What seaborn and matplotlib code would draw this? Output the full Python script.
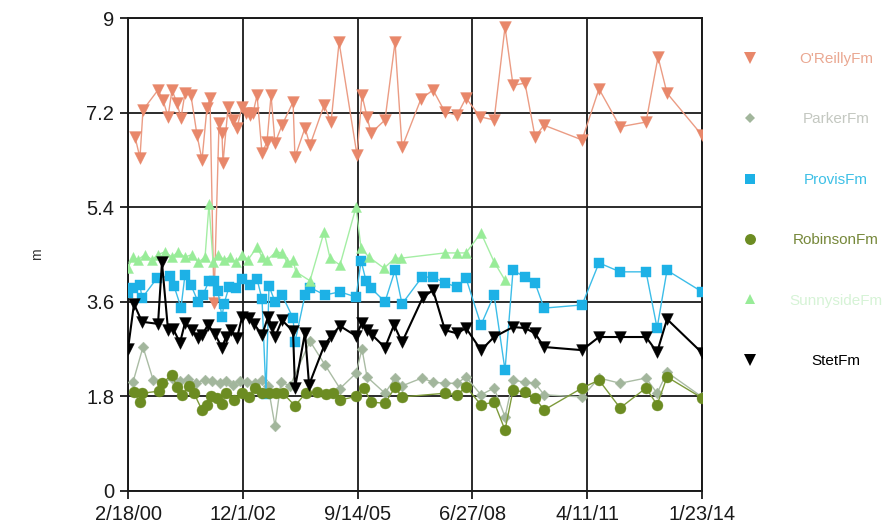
import matplotlib
matplotlib.use("Agg")
import matplotlib.pyplot as plt
import matplotlib.dates as mdates
from matplotlib.lines import Line2D
import numpy as np
import pandas as pd
import seaborn as sns

# ---- survey data: days since first survey (2000-02-18) and depth in m ----
FIRST_SURVEY = "2000-02-18"

oreilly_days = [62, 106, 133, 266, 310, 355, 390, 434, 470, 505, 558, 612, 656, 700, 727,
                762, 807, 833, 842, 887, 931, 966, 1011, 1046, 1082, 1108, 1144, 1188, 1232,
                1268, 1303, 1365, 1463, 1480, 1569, 1613, 1738, 1800, 1871, 2030, 2074, 2119,
                2154, 2278, 2367, 2429, 2597, 2704, 2810, 2917, 2996, 3120, 3245, 3342, 3413,
                3519, 3608, 3688, 4025, 4175, 4362, 4592, 4698, 4778, 5088]
oreilly_m = [6.74, 6.34, 7.25, 7.63, 7.44, 7.12, 7.63, 7.38, 7.10, 7.57, 7.53, 6.77, 6.30, 7.29,
             7.48, 3.58, 7.00, 6.81, 6.24, 7.31, 7.06, 6.91, 7.31, 7.19, 7.15, 7.19, 7.53, 6.43,
             6.64, 7.53, 6.62, 6.96, 7.40, 6.35, 6.91, 6.58, 7.34, 7.02, 8.54, 6.39, 7.53, 7.12,
             6.81, 7.06, 8.54, 6.54, 7.46, 7.63, 7.21, 7.15, 7.48, 7.12, 7.06, 8.83, 7.72, 7.76,
             6.74, 6.96, 6.68, 7.65, 6.93, 7.02, 8.26, 7.57, 6.77]

parker_days = [44, 133, 222, 310, 390, 461, 532, 603, 683, 745, 816, 869, 931, 993, 1055, 1126,
               1188, 1241, 1303, 1356, 1436, 1613, 1746, 1879, 2021, 2074, 2119, 2278, 2367,
               2429, 2606, 2704, 2810, 2917, 2996, 3129, 3245, 3342, 3413, 3519, 3608, 3688,
               4025, 4175, 4362, 4592, 4690, 4778, 5088]
parker_m = [2.07, 2.74, 2.12, 2.05, 2.15, 2.10, 2.13, 2.05, 2.12, 2.10, 2.05, 2.10, 2.02, 2.10,
            2.07, 2.05, 2.12, 2.00, 1.24, 2.07, 2.00, 2.85, 2.40, 1.95, 2.24, 2.70, 2.17, 1.86,
            2.15, 2.00, 2.15, 2.07, 2.05, 2.05, 2.17, 1.83, 1.96, 1.41, 2.11, 2.07, 2.05, 1.83,
            1.79, 2.15, 2.05, 2.15, 1.86, 2.26, 1.79]

provis_days = [0, 44, 106, 124, 257, 372, 408, 470, 505, 558, 621, 665, 718, 762, 798, 833, 851,
               895, 957, 1011, 1082, 1144, 1188, 1223, 1250, 1303, 1365, 1463, 1480, 1569, 1613,
               1746, 1879, 2021, 2066, 2110, 2154, 2278, 2367, 2429, 2606, 2704, 2810, 2917,
               2996, 3129, 3245, 3342, 3413, 3519, 3608, 3688, 4025, 4175, 4362, 4592, 4690,
               4778, 5088]
provis_m = [3.77, 3.86, 3.92, 3.67, 4.05, 4.09, 3.90, 3.49, 4.11, 3.92, 3.60, 3.73, 4.00, 4.00,
            3.80, 3.31, 3.56, 3.88, 3.86, 4.03, 3.92, 4.03, 3.65, 1.85, 3.90, 3.60, 3.73, 3.29,
            2.83, 3.73, 3.87, 3.73, 3.79, 3.69, 4.38, 4.00, 3.86, 3.60, 4.20, 3.56, 4.07, 4.07,
            3.96, 3.88, 4.05, 3.16, 3.73, 2.30, 4.20, 4.07, 3.96, 3.48, 3.54, 4.34, 4.17, 4.17,
            3.10, 4.20, 3.79]

robinson_days = [53, 106, 124, 275, 301, 390, 434, 479, 541, 585, 656, 700, 736, 789, 833, 869,
                 940, 1011, 1073, 1126, 1188, 1250, 1312, 1374, 1480, 1578, 1675, 1755, 1817,
                 1879, 2021, 2092, 2154, 2278, 2367, 2429, 2810, 2917, 2996, 3129, 3245, 3342,
                 3413, 3519, 3608, 3688, 4025, 4175, 4362, 4592, 4690, 4778, 5088]
robinson_m = [1.88, 1.69, 1.86, 1.90, 2.05, 2.21, 1.98, 1.83, 2.00, 1.86, 1.54, 1.64, 1.80, 1.77,
              1.66, 1.86, 1.73, 1.86, 1.79, 1.96, 1.86, 1.87, 1.86, 1.86, 1.62, 1.87, 1.88, 1.84,
              1.86, 1.73, 1.80, 1.96, 1.69, 1.67, 1.97, 1.79, 1.86, 1.83, 1.98, 1.64, 1.69, 1.16,
              1.92, 1.88, 1.77, 1.54, 1.96, 2.11, 1.58, 1.96, 1.64, 2.17, 1.77]

sunnyside_days = [0, 44, 89, 151, 213, 266, 328, 390, 443, 505, 567, 621, 683, 718, 754, 798,
                  851, 904, 957, 1011, 1064, 1144, 1188, 1232, 1312, 1365, 1410, 1463, 1489,
                  1613, 1738, 1791, 1879, 2021, 2066, 2136, 2269, 2367, 2420, 2810, 2917, 2996,
                  3129, 3245, 3342]
sunnyside_m = [4.25, 4.45, 4.40, 4.50, 4.40, 4.50, 4.55, 4.45, 4.55, 4.45, 4.50, 4.35, 4.45,
               5.46, 4.35, 4.50, 4.40, 4.45, 4.35, 4.50, 4.40, 4.64, 4.45, 4.39, 4.55, 4.53,
               4.35, 4.39, 4.17, 4.00, 4.93, 4.43, 4.30, 5.40, 4.62, 4.45, 4.24, 4.43, 4.43,
               4.53, 4.53, 4.53, 4.91, 4.36, 4.01]

stet_days = [0, 53, 124, 266, 301, 355, 399, 461, 505, 567, 621, 656, 709, 771, 833, 869, 913,
             966, 1011, 1073, 1117, 1188, 1241, 1277, 1303, 1365, 1463, 1480, 1569, 1605, 1738,
             1800, 1879, 2021, 2074, 2119, 2163, 2278, 2358, 2429, 2615, 2704, 2810, 2917, 2996,
             3129, 3245, 3413, 3519, 3608, 3688, 4025, 4175, 4362, 4592, 4690, 4778, 5088]
stet_m = [2.70, 3.56, 3.22, 3.18, 4.35, 3.06, 3.09, 2.82, 3.20, 3.06, 2.92, 2.97, 3.16, 2.98,
          2.73, 2.93, 3.06, 2.91, 3.31, 3.30, 3.18, 2.97, 3.31, 3.12, 2.93, 3.25, 3.04, 1.96,
          3.01, 2.02, 2.76, 2.95, 3.14, 2.95, 3.20, 3.06, 2.97, 2.73, 3.16, 2.83, 3.69, 3.82,
          3.06, 3.00, 3.10, 2.68, 2.93, 3.12, 3.10, 3.00, 2.74, 2.68, 2.93, 2.93, 2.93, 2.64,
          3.27, 2.63]

tick_dates = ["2000-02-18", "2002-12-01", "2005-09-14", "2008-06-27", "2011-04-11", "2014-01-23"]
y_ticks = [0, 1.8, 3.6, 5.4, 7.2, 9]
y_tick_labels = ["0", "1.8", "3.6", "5.4", "7.2", "9"]

# ---- styling ----
sns.set_theme(style="white")
plt.rcParams["font.family"] = ["Liberation Sans", "DejaVu Sans"]

series = [
    # name, days, values, marker, marker area (pt^2), marker colour, line colour, line width, label colour
    ("O'ReillyFm", oreilly_days, oreilly_m, "v", 72, "#e8876a", "#eb9c84", 1.0, "#eaa892"),
    ("ParkerFm", parker_days, parker_m, "D", 30, "#a2b69c", "#aabca4", 1.0, "#c4c8c1"),
    ("ProvisFm", provis_days, provis_m, "s", 60, "#1db1e6", "#3cbde8", 1.0, "#3ec0e6"),
    ("RobinsonFm", robinson_days, robinson_m, "o", 62, "#6c8c22", "#7d9a3a", 1.0, "#76883a"),
    ("SunnysideFm", sunnyside_days, sunnyside_m, "^", 52, "#98ec98", "#a4eea4", 1.0, "#d6f3d6"),
    ("StetFm", stet_days, stet_m, "v", 72, "#000000", "#000000", 1.5, "#000000"),
]

fig = plt.figure(figsize=(8.95, 5.26), dpi=100)
ax = fig.add_axes([128 / 895, 35 / 526, 574 / 895, 473 / 526])

start = pd.Timestamp(FIRST_SURVEY)
handles, labels, label_colors = [], [], []
for i, (name, days, vals, marker, size, mcol, lcol, lw, tcol) in enumerate(series):
    dates = start + pd.to_timedelta(np.asarray(days), unit="D")
    df = pd.DataFrame({"date": dates, "m": vals})
    sns.lineplot(data=df, x="date", y="m", sort=False, estimator=None, color=lcol,
                 linewidth=lw, ax=ax, zorder=3 + i, legend=False)
    sns.scatterplot(data=df, x="date", y="m", marker=marker, s=size, color=mcol,
                    edgecolor=mcol, linewidth=0.3, ax=ax, zorder=3 + i, legend=False)
    handles.append(Line2D([], [], linestyle="none", marker=marker, color=mcol,
                          markersize=np.sqrt(size), markeredgewidth=0))
    labels.append(name)
    label_colors.append(tcol)

# ---- axes ----
tick_nums = mdates.date2num(pd.to_datetime(tick_dates))
ax.set_xlim(tick_nums[0], tick_nums[-1])
ax.set_xticks(tick_nums)
ax.xaxis.set_major_formatter(plt.FuncFormatter(
    lambda v, _: (lambda d: f"{d.month}/{d.day}/{d.year % 100:02d}")(mdates.num2date(v))))
ax.set_ylim(0, 9)
ax.set_yticks(y_ticks)
ax.set_yticklabels(y_tick_labels)

ax.grid(True, color="#1a1a1a", linewidth=1.3)
ax.set_axisbelow(True)
for side in ["left", "bottom", "top", "right"]:
    ax.spines[side].set_visible(True)
    ax.spines[side].set_color("#1a1a1a")
    ax.spines[side].set_linewidth(1.4)
ax.tick_params(axis="both", direction="out", length=6, width=1.3, color="#1a1a1a",
               labelsize=14.5, labelcolor="#1a1a1a", pad=4, bottom=True, left=True)
ax.set_xlabel("")
ax.set_ylabel("m", fontsize=10, color="#333333", labelpad=30)

# legend: markers from the legend, labels centred in the column to the right
LEGEND_FS = 11
leg = ax.legend(handles, labels, loc="upper left", bbox_to_anchor=(741 / 895, 1 - 52 / 526),
                bbox_transform=fig.transFigure, frameon=False, fontsize=LEGEND_FS,
                handlelength=1.2, handletextpad=2.6, labelspacing=3.04,
                borderpad=0, borderaxespad=0)
fig.canvas.draw()
fig_h = fig.bbox.height
for txt, col in zip(leg.get_texts(), label_colors):
    bb = txt.get_window_extent()
    fig.text(836 / 895, (bb.y0 + bb.y1) / 2 / fig_h, txt.get_text(), ha="center",
             va="center", fontsize=LEGEND_FS, color=col)
    txt.set_visible(False)

fig.savefig("out.png", dpi=100)
